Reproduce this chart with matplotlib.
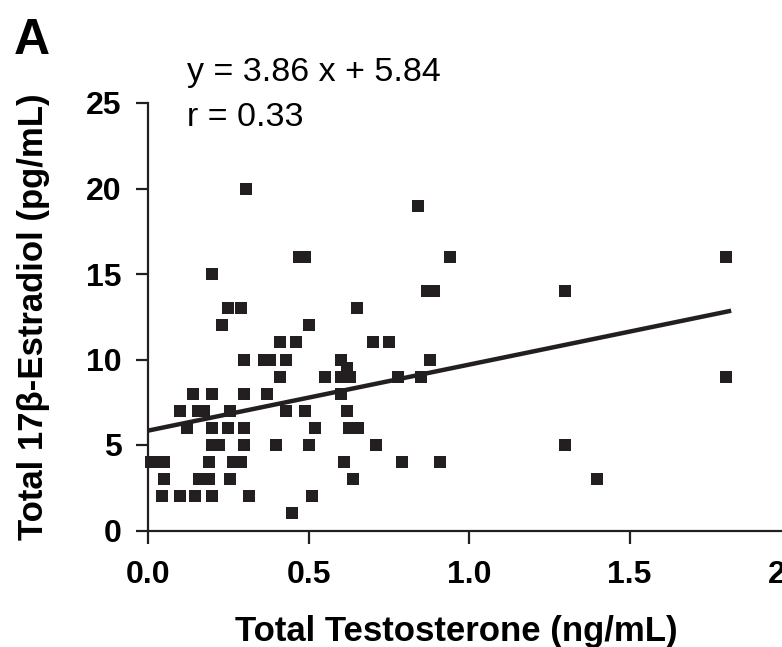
import matplotlib
matplotlib.use('Agg')
from matplotlib import pyplot as plt

# testosterone (ng/mL) vs estradiol (pg/mL)
testosterone = [
    0.305, 0.47, 0.49, 0.20, 0.25, 0.29, 0.23, 0.50, 0.41, 0.46,
    0.30, 0.36, 0.38, 0.43, 0.41, 0.55, 0.14, 0.20, 0.30, 0.37,
    0.10, 0.155, 0.175, 0.255, 0.43, 0.49, 0.12, 0.20, 0.25, 0.30,
    0.52, 0.20, 0.22, 0.30, 0.40, 0.50, 0.01, 0.03, 0.05, 0.19,
    0.265, 0.29, 0.05, 0.16, 0.19, 0.255, 0.045, 0.10, 0.145, 0.20,
    0.315, 0.51, 0.45,
    0.84, 0.94, 0.87, 0.89, 0.65, 0.70, 0.75, 0.60, 0.88, 0.62,
    0.60, 0.63, 0.78, 0.85, 0.60, 0.62, 0.625, 0.655, 0.71, 0.61,
    0.79, 0.91, 0.64,
    1.30, 1.80, 1.80, 1.30, 1.40,
]
estradiol = [
    20, 16, 16, 15, 13, 13, 12, 12, 11, 11,
    10, 10, 10, 10, 9, 9, 8, 8, 8, 8,
    7, 7, 7, 7, 7, 7, 6, 6, 6, 6,
    6, 5, 5, 5, 5, 5, 4, 4, 4, 4,
    4, 4, 3, 3, 3, 3, 2, 2, 2, 2,
    2, 2, 1,
    19, 16, 14, 14, 13, 11, 11, 10, 10, 9.5,
    9, 9, 9, 9, 8, 7, 6, 6, 5, 4,
    4, 4, 3,
    14, 16, 9, 5, 3,
]

SLOPE, INTERCEPT, R = 3.86, 5.84, 0.33
FIT_X = [0.0, 1.81]

plt.rcParams['font.family'] = ['Liberation Sans', 'DejaVu Sans']

fig = plt.figure(figsize=(7.82, 6.47), dpi=100)
ax = fig.add_axes([148 / 782, 116.5 / 647, 642 / 782, 427.5 / 647])

ax.plot(testosterone, estradiol, 's', color='#231f20', markersize=8,
        markeredgewidth=0, clip_on=False)
ax.plot(FIT_X, [SLOPE * x + INTERCEPT for x in FIT_X], color='#231f20',
        linewidth=3.2)

ax.set_xlim(0, 2)
ax.set_ylim(0, 25)
ax.set_xticks([0, 0.5, 1.0, 1.5, 2.0])
ax.set_xticklabels(['0.0', '0.5', '1.0', '1.5', '2.0'])
ax.set_yticks([0, 5, 10, 15, 20, 25])

for side in ('top', 'right'):
    ax.spines[side].set_visible(False)
for side in ('left', 'bottom'):
    ax.spines[side].set_linewidth(1.6)
    ax.spines[side].set_color('#231f20')

ax.tick_params(direction='out', length=9, width=1.6, color='#231f20',
               labelsize=23)
ax.tick_params(axis='x', pad=12)
ax.tick_params(axis='y', pad=10)
for lbl in ax.get_xticklabels() + ax.get_yticklabels():
    lbl.set_fontweight('bold')

ax.set_xlabel('Total Testosterone (ng/mL)', fontsize=25, fontweight='bold',
              labelpad=18)
ax.xaxis.label.set_x(0.481)
ax.set_ylabel('Total 17β-Estradiol (pg/mL)', fontsize=25, fontweight='bold',
              labelpad=26)

fig.text(187 / 782, 1 - 73 / 647, f'y = {SLOPE} x + {INTERCEPT}',
         fontsize=24.5, va='center', ha='left')
fig.text(187 / 782, 1 - 118 / 647, f'r = {R}', fontsize=24.5,
         va='center', ha='left')
fig.text(14 / 782, 1 - 41 / 647, 'A', fontsize=36, fontweight='bold',
         va='center', ha='left')

fig.savefig('out.png', dpi=100)
